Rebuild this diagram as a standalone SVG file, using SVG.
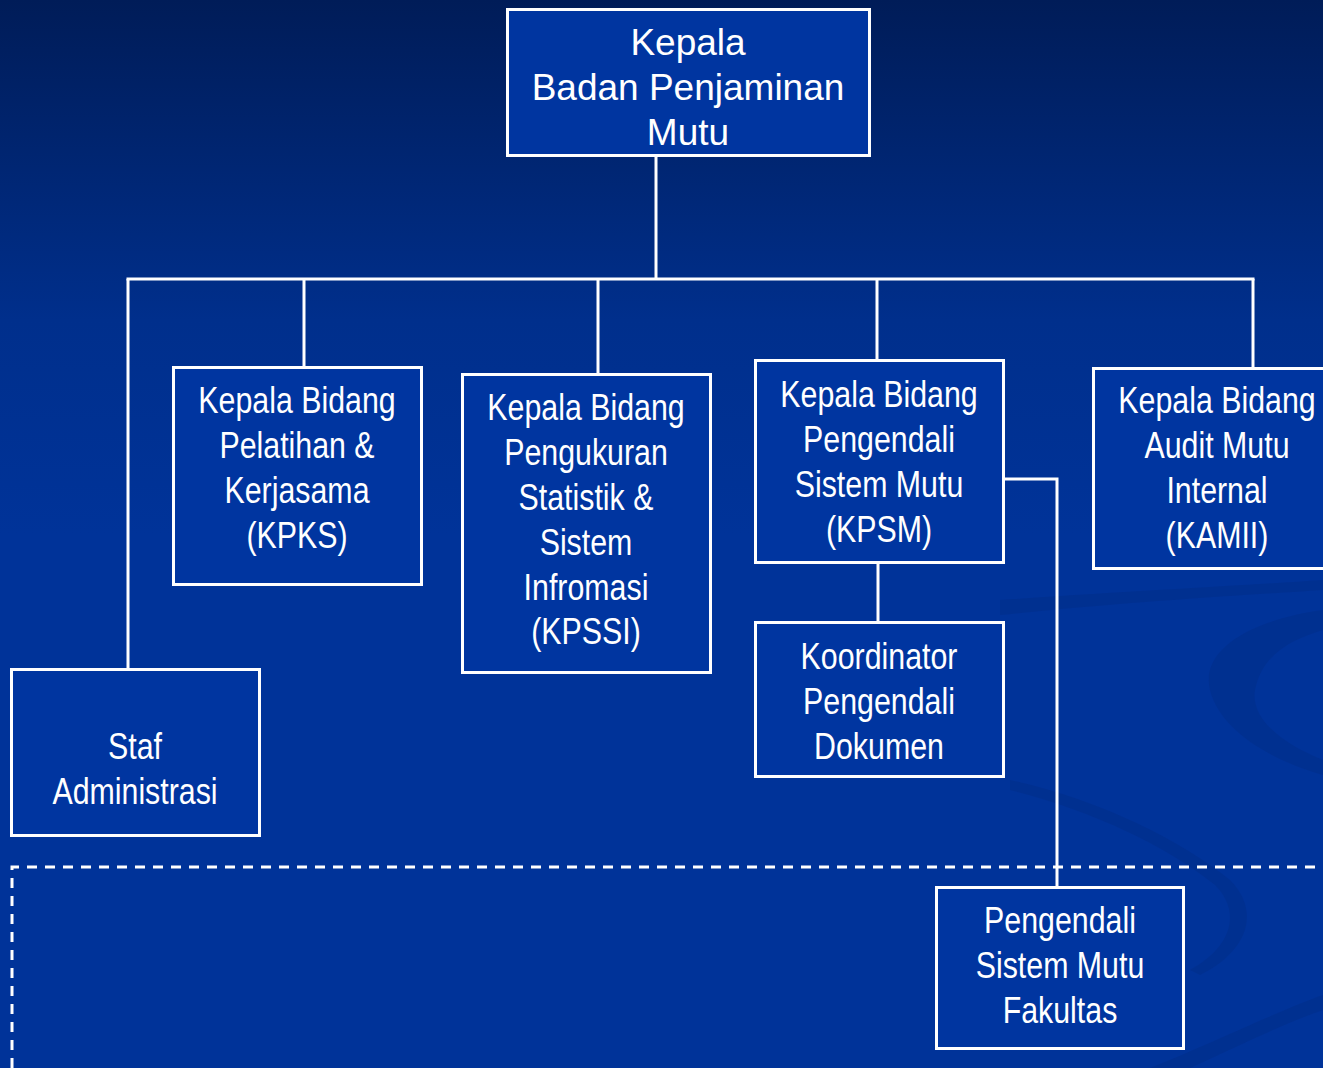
<svg xmlns="http://www.w3.org/2000/svg" width="1323" height="1068" viewBox="0 0 1323 1068">
<defs>
<linearGradient id="bg" x1="0" y1="0" x2="0" y2="1068" gradientUnits="userSpaceOnUse">
<stop offset="0" stop-color="#001c58"/>
<stop offset="0.3" stop-color="#002f8c"/>
<stop offset="0.5" stop-color="#003399"/>
<stop offset="1" stop-color="#003399"/>
</linearGradient>
<style>
.box{fill:#0035a0;stroke:#ffffff;stroke-width:3}
.ln{stroke:#ffffff;stroke-width:3;fill:none}
.dash{stroke:#ffffff;stroke-width:3;fill:none;stroke-dasharray:10 8}
.t{fill:#ffffff;font-family:"Liberation Sans",Arial,sans-serif;font-size:37px;text-anchor:middle}
.tt{fill:#ffffff;font-family:"Liberation Sans",Arial,sans-serif;font-size:37px;text-anchor:middle}
.sw{fill:#002e8a;opacity:0.6}
</style>
</defs>
<rect width="1323" height="1068" fill="url(#bg)"/>
<g id="swirls">
<path class="sw" d="M1323 610 C1250 620 1200 650 1210 690 C1220 730 1270 760 1323 775 L1323 760 C1285 745 1250 720 1255 690 C1262 655 1290 640 1323 630 Z"/>
<path class="sw" d="M1000 600 C1150 590 1250 585 1323 580 L1323 590 C1250 595 1150 600 1000 615 Z"/>
<path class="sw" d="M1010 780 C1100 800 1180 840 1230 880 C1260 910 1250 950 1200 975 L1190 970 C1235 945 1240 910 1215 885 C1165 845 1090 810 1010 790 Z"/>
<path class="sw" d="M1150 1068 C1220 1040 1280 1010 1323 995 L1323 1010 C1280 1025 1230 1050 1190 1068 Z"/>
</g>
<g id="connectors">
<line class="ln" x1="656" y1="156" x2="656" y2="279"/>
<line class="ln" x1="126.5" y1="279" x2="1254.5" y2="279"/>
<line class="ln" x1="128" y1="279" x2="128" y2="669"/>
<line class="ln" x1="304" y1="279" x2="304" y2="367"/>
<line class="ln" x1="598" y1="279" x2="598" y2="374"/>
<line class="ln" x1="877" y1="279" x2="877" y2="360"/>
<line class="ln" x1="1253" y1="279" x2="1253" y2="368"/>
<line class="ln" x1="878" y1="563" x2="878" y2="622"/>
<polyline class="ln" points="1004,479 1057,479 1057,887"/>
<polyline class="dash" points="12,1068 12,867 1323,867"/>
</g>
<g id="n-kepala">
<rect class="box" x="507.5" y="9.5" width="362" height="146"/>
<text class="tt" x="688" y="55">Kepala</text>
<text class="tt" x="688" y="100">Badan Penjaminan</text>
<text class="tt" x="688" y="145">Mutu</text>
</g>
<g id="n-kpks">
<rect class="box" x="173.5" y="367.5" width="248" height="217"/>
<g transform="translate(297,0) scale(0.82,1)">
<text class="t" x="0" y="413">Kepala Bidang</text>
<text class="t" x="0" y="458">Pelatihan &amp;</text>
<text class="t" x="0" y="503">Kerjasama</text>
<text class="t" x="0" y="548">(KPKS)</text>
</g>
</g>
<g id="n-kpssi">
<rect class="box" x="462.5" y="374.5" width="248" height="298"/>
<g transform="translate(586,0) scale(0.82,1)">
<text class="t" x="0" y="420">Kepala Bidang</text>
<text class="t" x="0" y="465">Pengukuran</text>
<text class="t" x="0" y="510">Statistik &amp;</text>
<text class="t" x="0" y="555">Sistem</text>
<text class="t" x="0" y="600">Infromasi</text>
<text class="t" x="0" y="644">(KPSSI)</text>
</g>
</g>
<g id="n-kpsm">
<rect class="box" x="755.5" y="360.5" width="248" height="202"/>
<g transform="translate(879,0) scale(0.82,1)">
<text class="t" x="0" y="407">Kepala Bidang</text>
<text class="t" x="0" y="452">Pengendali</text>
<text class="t" x="0" y="497">Sistem Mutu</text>
<text class="t" x="0" y="542">(KPSM)</text>
</g>
</g>
<g id="n-kamii">
<rect class="box" x="1093.5" y="368.5" width="240" height="200"/>
<g transform="translate(1217,0) scale(0.82,1)">
<text class="t" x="0" y="413">Kepala Bidang</text>
<text class="t" x="0" y="458">Audit Mutu</text>
<text class="t" x="0" y="503">Internal</text>
<text class="t" x="0" y="548">(KAMII)</text>
</g>
</g>
<g id="n-koordinator">
<rect class="box" x="755.5" y="622.5" width="248" height="154"/>
<g transform="translate(879,0) scale(0.82,1)">
<text class="t" x="0" y="669">Koordinator</text>
<text class="t" x="0" y="714">Pengendali</text>
<text class="t" x="0" y="759">Dokumen</text>
</g>
</g>
<g id="n-staf">
<rect class="box" x="11.5" y="669.5" width="248" height="166"/>
<g transform="translate(135,0) scale(0.82,1)">
<text class="t" x="0" y="759">Staf</text>
<text class="t" x="0" y="804">Administrasi</text>
</g>
</g>
<g id="n-psmf">
<rect class="box" x="936.5" y="887.5" width="247" height="161"/>
<g transform="translate(1060,0) scale(0.82,1)">
<text class="t" x="0" y="933">Pengendali</text>
<text class="t" x="0" y="978">Sistem Mutu</text>
<text class="t" x="0" y="1023">Fakultas</text>
</g>
</g>
</svg>
